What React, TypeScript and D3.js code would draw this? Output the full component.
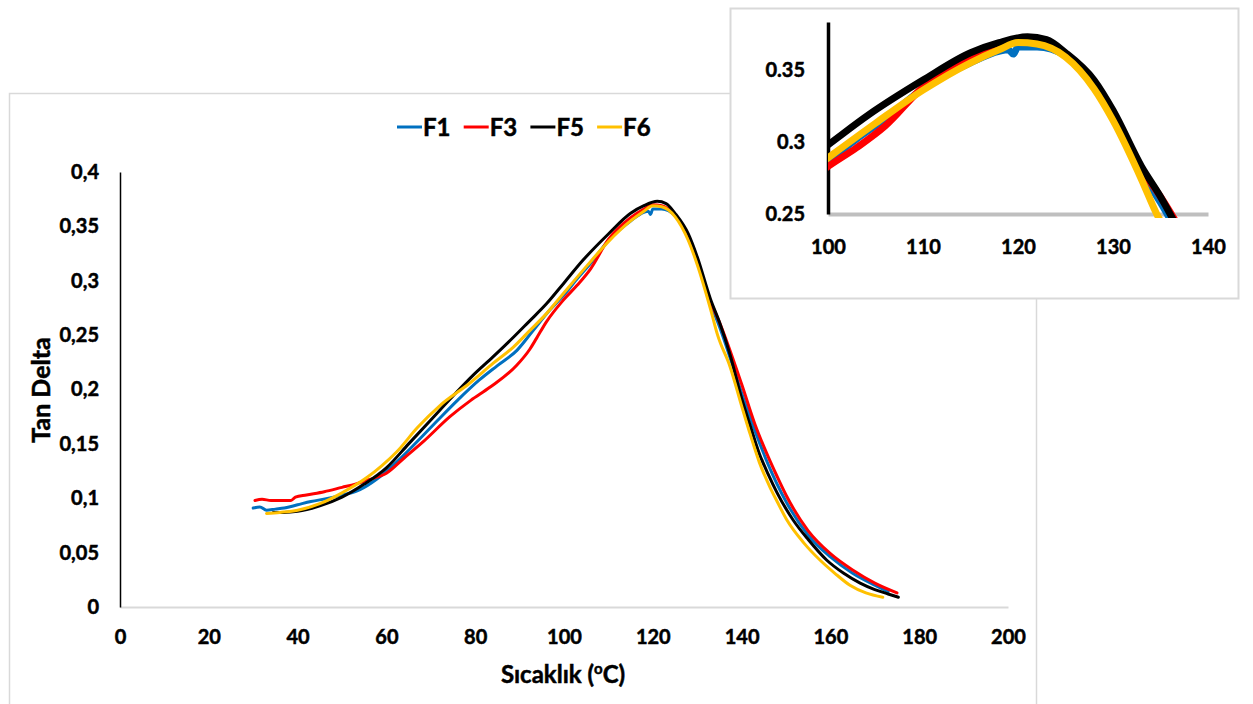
import React, { useEffect, useRef } from 'react';
import * as d3 from 'd3';

const seriesNames = ['F1', 'F3', 'F5', 'F6'];
const seriesColors = ['#0070C0', '#FF0000', '#000000', '#FFC000'];

// F1
const f1Temp = [30, 31.5, 33, 35, 37, 40, 43, 47, 50, 53, 55, 58.6, 63, 67.6, 71.4, 76, 81, 85, 89.4, 93, 96.8, 100, 103, 106, 110, 115, 118, 119, 119.5, 120, 122, 125, 128, 130, 133, 135, 140, 143, 146, 150, 155, 160, 165, 170, 173];
const f1Val = [0.091, 0.092, 0.089, 0.090, 0.091, 0.094, 0.097, 0.100, 0.103, 0.106, 0.110, 0.120, 0.136, 0.155, 0.171, 0.190, 0.209, 0.222, 0.236, 0.254, 0.273, 0.287, 0.302, 0.316, 0.337, 0.355, 0.363, 0.364, 0.361, 0.366, 0.366, 0.360, 0.340, 0.318, 0.279, 0.258, 0.197, 0.162, 0.131, 0.097, 0.066, 0.046, 0.031, 0.020, 0.014];
// F3
const f3Temp = [30.4, 32, 34, 36, 38.5, 39.5, 42, 46, 50, 53, 56, 60, 64, 68.3, 74.3, 79, 83.3, 89.3, 92.3, 93.8, 96, 99.8, 103, 106, 110, 115, 118, 120, 122, 125, 128, 130, 133, 135, 140, 143, 146, 148, 150, 155, 160, 165, 170, 175];
const f3Val = [0.098, 0.099, 0.098, 0.098, 0.098, 0.101, 0.103, 0.106, 0.110, 0.113, 0.117, 0.123, 0.137, 0.152, 0.175, 0.190, 0.202, 0.222, 0.237, 0.247, 0.262, 0.282, 0.296, 0.311, 0.338, 0.358, 0.366, 0.370, 0.369, 0.360, 0.340, 0.318, 0.281, 0.262, 0.205, 0.168, 0.138, 0.120, 0.103, 0.070, 0.049, 0.034, 0.022, 0.013];
// F5
const f5Temp = [34.5, 37, 40, 45, 50, 55, 60, 65, 70, 75, 79.5, 84, 88.6, 92, 96.1, 100, 104.3, 110, 115, 118, 121, 123, 125, 128, 130, 133, 135, 137.4, 140, 142, 144, 146, 148, 151.6, 155, 159.2, 163, 166.7, 170, 173, 175.3];
const f5Val = [0.087, 0.087, 0.088, 0.093, 0.101, 0.113, 0.128, 0.150, 0.172, 0.194, 0.213, 0.230, 0.248, 0.262, 0.279, 0.298, 0.319, 0.343, 0.362, 0.369, 0.373, 0.371, 0.362, 0.343, 0.322, 0.283, 0.262, 0.232, 0.192, 0.166, 0.141, 0.122, 0.105, 0.080, 0.062, 0.043, 0.031, 0.022, 0.016, 0.012, 0.009];
// F6
const f6Temp = [33, 36, 40, 45, 50, 55.6, 59, 62.4, 67, 72, 78.8, 84, 88.6, 92, 96.1, 100, 105, 110, 115, 118, 120, 122, 125, 128, 130, 133, 134.6, 137.4, 140, 142, 144, 146.4, 148, 150.2, 154, 157.7, 161, 164.4, 168, 171.8];
const f6Val = [0.086, 0.087, 0.089, 0.095, 0.105, 0.119, 0.130, 0.143, 0.165, 0.185, 0.206, 0.224, 0.239, 0.253, 0.270, 0.289, 0.313, 0.336, 0.355, 0.364, 0.369, 0.368, 0.359, 0.337, 0.315, 0.274, 0.250, 0.221, 0.185, 0.158, 0.133, 0.110, 0.097, 0.080, 0.059, 0.043, 0.031, 0.020, 0.013, 0.009];

const xTicks = [0, 20, 40, 60, 80, 100, 120, 140, 160, 180, 200];
const yTicks = [0, 0.05, 0.1, 0.15, 0.2, 0.25, 0.3, 0.35, 0.4];
const insetXTicks = [100, 110, 120, 130, 140];
const insetYTicks = [0.25, 0.3, 0.35];

const FONT = 'Lato, "Open Sans", sans-serif';

// bold text, a hair heavier to look like the original's Calibri Bold
const boldText = (sel: any, size: number) =>
  sel.attr('font-family', FONT).attr('font-size', size).attr('font-weight', 700)
    .attr('fill', '#000').attr('stroke', '#000').attr('stroke-width', 0.5);

const App = () => {
  const svgRef = useRef<SVGSVGElement>(null);

  useEffect(() => {
    const svg = d3.select(svgRef.current);
    svg.selectAll('*').remove();

    const temps = [f1Temp, f3Temp, f5Temp, f6Temp];
    const vals = [f1Val, f3Val, f5Val, f6Val];
    const series = seriesNames.map((name, i) => ({
      name,
      color: seriesColors[i],
      points: temps[i].map((t, j) => [t, vals[i][j]] as [number, number]),
    }));

    // main chart frame
    svg.append('rect').attr('x', 9.5).attr('y', 93.5).attr('width', 1027).attr('height', 660)
      .attr('fill', '#fff').attr('stroke', '#d9d9d9').attr('stroke-width', 1.5);

    const x = d3.scaleLinear().domain([0, 200]).range([120, 1008]);
    const y = d3.scaleLinear().domain([0, 0.4]).range([607, 172]);

    const xAxis = svg.append('g').attr('transform', 'translate(0,607)')
      .call(d3.axisBottom(x).tickValues(xTicks).tickSize(0).tickSizeOuter(0).tickPadding(23).tickFormat(d => String(d)));
    xAxis.select('.domain').attr('stroke', '#d9d9d9').attr('stroke-width', 2);
    boldText(xAxis.selectAll('text'), 20);

    const yAxis = svg.append('g').attr('transform', 'translate(120,0)')
      .call(d3.axisLeft(y).tickValues(yTicks).tickSize(0).tickSizeOuter(0).tickPadding(21)
        .tickFormat(d => d3.format('.2~f')(d as number).replace('.', ',')));
    yAxis.select('.domain').attr('stroke', '#000').attr('stroke-width', 1.5);
    boldText(yAxis.selectAll('text'), 20);

    const line = d3.line<[number, number]>().x(d => x(d[0])).y(d => y(d[1])).curve(d3.curveMonotoneX);
    svg.append('g').selectAll('path').data(series).join('path')
      .attr('d', d => line(d.points))
      .attr('fill', 'none').attr('stroke', d => d.color).attr('stroke-width', 3)
      .attr('stroke-linejoin', 'round').attr('stroke-linecap', 'round');

    // axis titles
    boldText(svg.append('text').attr('transform', 'translate(50,390) rotate(-90)').attr('text-anchor', 'middle'), 25)
      .text('Tan Delta');
    const xt = boldText(svg.append('text').attr('x', 563).attr('y', 683).attr('text-anchor', 'middle'), 24);
    xt.append('tspan').text('Sıcaklık (');
    xt.append('tspan').attr('font-size', 15).attr('dy', -9).text('o');
    xt.append('tspan').attr('dy', 9).text('C)');

    // legend
    const legend = svg.append('g').selectAll('g').data(series).join('g')
      .attr('transform', (d, i) => `translate(${397 + i * 66.7},127)`);
    legend.append('line').attr('x1', 0).attr('x2', 25).attr('y1', 0).attr('y2', 0)
      .attr('stroke', d => d.color).attr('stroke-width', 3);
    boldText(legend.append('text').attr('x', 26).attr('y', 9), 24).text(d => d.name);

    // inset zoom
    svg.append('rect').attr('x', 730.5).attr('y', 8.5).attr('width', 508).attr('height', 290)
      .attr('fill', '#fff').attr('stroke', '#d9d9d9').attr('stroke-width', 2);

    const ix = d3.scaleLinear().domain([100, 140]).range([828, 1208]);
    const iy = d3.scaleLinear().domain([0.25, 0.3833]).range([214, 22]);

    const ixAxis = svg.append('g').attr('transform', 'translate(0,214)')
      .call(d3.axisBottom(ix).tickValues(insetXTicks).tickSize(0).tickSizeOuter(0).tickPadding(26).tickFormat(d => String(d)));
    ixAxis.select('.domain').attr('stroke', '#bfbfbf').attr('stroke-width', 4);
    boldText(ixAxis.selectAll('text'), 20);

    const iyAxis = svg.append('g').attr('transform', 'translate(828,0)')
      .call(d3.axisLeft(iy).tickValues(insetYTicks).tickSize(0).tickSizeOuter(0).tickPadding(23)
        .tickFormat(d => d3.format('.2~f')(d as number)));
    iyAxis.select('.domain').attr('stroke', '#000').attr('stroke-width', 3.5);
    boldText(iyAxis.selectAll('text'), 20);

    svg.append('clipPath').attr('id', 'inset-clip').append('rect')
      .attr('x', 828).attr('y', 18).attr('width', 380).attr('height', 200);

    const iline = d3.line<[number, number]>().x(d => ix(d[0])).y(d => iy(d[1])).curve(d3.curveMonotoneX);
    svg.append('g').attr('clip-path', 'url(#inset-clip)').selectAll('path').data(series).join('path')
      .attr('d', d => iline(d.points))
      .attr('fill', 'none').attr('stroke', d => d.color).attr('stroke-width', 7)
      .attr('stroke-linejoin', 'round');
  }, []);

  return (
    <div style={{ position: 'absolute', left: 0, top: 0 }}>
      <svg ref={svgRef} width={1253} height={704} style={{ display: 'block' }}></svg>
    </div>
  );
};

export default App;
